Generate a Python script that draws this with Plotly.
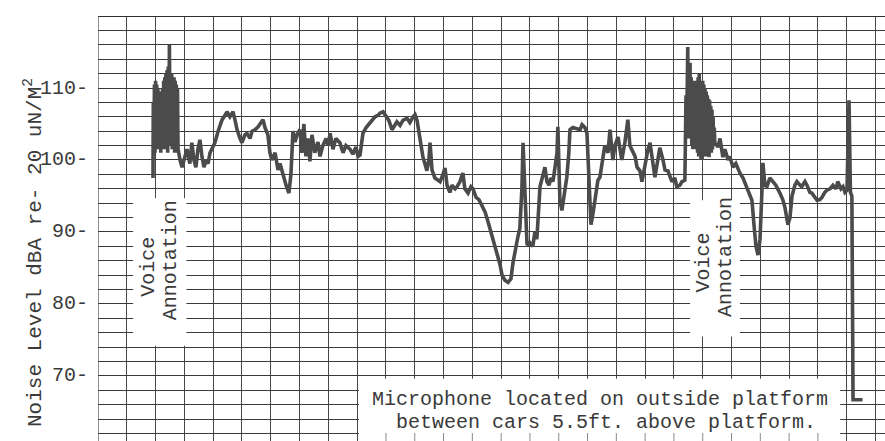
import plotly.graph_objects as go

# ---- trace data: chart position (major grid divisions) and level (dBA) ----
# opening voice-annotation burst
burst1_pos = [
    1.91, 1.92, 1.94, 1.96, 1.98, 2.00, 2.02, 2.04, 2.06, 2.08, 2.10, 2.12, 2.14, 2.16,
    2.18, 2.20, 2.22, 2.24, 2.26, 2.28, 2.30, 2.32, 2.34, 2.36, 2.38, 2.40, 2.42, 2.44,
    2.46, 2.48, 2.50, 2.52, 2.54, 2.56, 2.58, 2.60, 2.62, 2.64, 2.66, 2.68, 2.70, 2.72,
    2.74, 2.76, 2.78,
]
burst1_level = [
    97.5, 108.0, 100.5, 110.5, 101.0, 111.0, 101.5, 110.5, 102.0, 110.0, 101.5, 109.5, 102.0, 109.0,
    101.0, 109.5, 102.5, 110.0, 101.5, 111.0, 102.0, 111.5, 101.5, 112.0, 102.0, 112.5, 101.0, 113.0,
    103.0, 116.0, 104.0, 112.0, 102.0, 112.0, 101.5, 111.5, 101.5, 111.5, 101.0, 111.0, 101.0, 110.5,
    101.5, 110.0, 101.5,
]

# main run of the recording
run1_pos = [
    2.85, 2.92, 3.02, 3.09, 3.19, 3.26, 3.33, 3.40, 3.47, 3.54, 3.61, 3.68, 3.75, 3.82,
    3.89, 3.99, 4.06, 4.17, 4.31, 4.41, 4.48, 4.58, 4.69, 4.76, 4.83, 4.93, 5.00, 5.10,
    5.17, 5.28, 5.35, 5.45, 5.56, 5.66, 5.73, 5.80, 5.90, 5.97, 6.04, 6.15, 6.25, 6.32,
    6.42, 6.53, 6.63, 6.70, 6.77, 6.84, 6.91, 7.01, 7.08, 7.15, 7.22, 7.29, 7.36, 7.43,
    7.53, 7.64, 7.71, 7.81, 7.92, 7.99, 8.06, 8.16, 8.26, 8.40, 8.51, 8.61, 8.75, 8.85,
    8.96, 9.03, 9.10, 9.20, 9.31, 9.41, 9.51, 9.62, 9.72, 9.79, 9.90, 10.00, 10.10, 10.21,
    10.31, 10.38, 10.49, 10.59, 10.73, 10.83, 10.94, 11.01, 11.08, 11.15, 11.22, 11.28,
    11.35, 11.42, 11.49, 11.53, 11.60, 11.70, 11.81, 11.88, 11.98, 12.05, 12.12, 12.22,
    12.29, 12.40, 12.47, 12.57, 12.67, 12.74, 12.85, 12.95, 13.02, 13.13, 13.23, 13.33,
    13.44, 13.54, 13.65, 13.75, 13.85, 13.96, 14.03, 14.13, 14.24, 14.34, 14.41, 14.48,
    14.58, 14.65, 14.72, 14.76, 14.83, 14.90, 15.00, 15.10, 15.17, 15.24, 15.35, 15.45,
    15.52, 15.59, 15.66, 15.73, 15.80, 15.87, 15.94, 15.97, 16.01, 16.04, 16.11, 16.18,
    16.28, 16.35, 16.39, 16.49, 16.63, 16.74, 16.81, 16.91, 16.98, 17.05, 17.12, 17.19,
    17.29, 17.36, 17.43, 17.53, 17.60, 17.71, 17.78, 17.88, 17.95, 18.06, 18.13, 18.19,
    18.30, 18.40, 18.47, 18.54, 18.65, 18.72, 18.82, 18.89, 18.99, 19.10, 19.17, 19.24,
    19.34, 19.44, 19.51, 19.62, 19.69, 19.79, 19.93, 20.03, 20.10, 20.21, 20.28, 20.38,
]
run1_level = [
    100.0, 99.0, 100.5, 101.5, 99.5, 102.4, 100.0, 99.0, 101.5, 102.8, 100.5, 99.0, 100.0, 99.5,
    101.0, 102.0, 102.4, 104.0, 105.6, 106.2, 106.7, 106.0, 106.7, 105.5, 104.2, 103.0, 102.4, 103.5,
    103.7, 103.0, 104.0, 104.2, 104.6, 105.2, 105.6, 104.5, 103.5, 101.0, 100.0, 101.0, 98.6, 99.5,
    98.0, 96.5, 95.4, 98.0, 104.0, 102.5, 103.5, 104.2, 101.0, 105.0, 100.5, 103.0, 99.8, 103.5,
    101.0, 102.5, 100.5, 102.0, 103.0, 102.0, 103.7, 101.5, 103.0, 102.4, 101.0, 102.0, 101.5, 100.8,
    101.8, 100.5, 100.7, 103.7, 104.5, 105.0, 105.6, 106.0, 106.2, 106.5, 106.7, 106.2, 105.5, 104.2,
    105.0, 105.3, 104.8, 105.5, 105.8, 105.2, 106.0, 106.3, 105.5, 103.5, 101.8, 100.5,
    99.5, 98.5, 100.0, 102.4, 98.6, 97.5, 97.2, 97.0, 98.0, 98.9, 96.5, 95.5,
    96.5, 96.0, 96.3, 97.0, 98.2, 96.0, 95.4, 96.3, 96.0, 94.8, 94.5, 93.8,
    92.8, 91.5, 90.0, 88.5, 87.0, 85.5, 84.0, 83.3, 83.0, 83.5, 85.7, 87.5,
    89.3, 90.5, 96.0, 102.4, 95.0, 88.2, 88.5, 88.0, 90.0, 89.0, 96.3, 98.0,
    99.0, 97.0, 96.5, 97.5, 97.0, 99.0, 101.0, 104.6, 99.0, 94.4, 93.0, 95.0,
    97.6, 101.0, 104.2, 104.5, 104.4, 104.2, 104.9, 104.5, 103.7, 98.0, 91.0, 92.6,
    95.0, 97.2, 97.6, 100.0, 102.0, 101.0, 104.2, 100.0, 102.0, 103.2, 101.0, 100.0,
    102.5, 105.6, 102.0, 101.4, 100.5, 99.0, 98.5, 97.0, 99.5, 101.5, 102.4, 100.0,
    97.6, 100.0, 101.7, 100.0, 98.6, 98.5, 97.0, 97.5, 96.3, 96.5, 97.0, 97.2,
]

# second voice-annotation burst
burst2_pos = [
    20.42, 20.44, 20.46, 20.48, 20.50, 20.52, 20.54, 20.56, 20.58, 20.60, 20.62, 20.64,
    20.66, 20.68, 20.70, 20.72, 20.74, 20.76, 20.78, 20.80, 20.82, 20.84, 20.86, 20.88,
    20.90, 20.92, 20.94, 20.96, 20.98, 21.00, 21.02, 21.04, 21.06, 21.08, 21.10, 21.12,
    21.14, 21.16, 21.18, 21.20, 21.22, 21.24, 21.26, 21.28, 21.30, 21.32, 21.34, 21.36,
    21.38, 21.40, 21.42,
]
burst2_level = [
    109.0, 103.0, 112.9, 115.7, 106.0, 112.0, 103.0, 113.5, 103.0, 111.5, 102.0, 111.0,
    101.5, 110.5, 101.5, 110.5, 102.0, 111.0, 102.5, 111.0, 101.0, 111.5, 100.5, 112.0,
    100.5, 111.0, 100.0, 110.5, 100.0, 111.0, 100.5, 110.5, 101.0, 110.0, 100.5, 109.5,
    101.0, 109.0, 100.5, 108.5, 100.4, 108.3, 101.0, 107.5, 101.0, 107.0, 101.5, 106.0,
    102.0, 104.5, 102.4,
]

# tail of the recording and the pen returning to rest
run2_pos = [
    21.53, 21.60, 21.70, 21.77, 21.88, 21.94, 22.05, 22.15, 22.29, 22.40, 22.53, 22.64,
    22.71, 22.78, 22.85, 22.92, 22.99, 23.06, 23.09, 23.16, 23.23, 23.33, 23.44, 23.54,
    23.68, 23.78, 23.85, 23.96, 24.03, 24.10, 24.20, 24.27, 24.38, 24.44, 24.55, 24.62,
    24.72, 24.79, 24.90, 24.97, 25.07, 25.14, 25.24, 25.31, 25.42, 25.52, 25.63, 25.69,
    25.80, 25.87, 25.94, 26.01, 26.08, 26.13, 26.18, 26.22, 26.55,
]
run2_level = [
    101.8, 103.0, 100.4, 101.5, 100.0, 100.5, 99.0, 99.5, 98.2, 97.5, 96.3, 95.0,
    94.4, 91.0, 88.0, 86.8, 89.0, 96.0, 99.6, 96.5, 96.3, 97.5, 97.0, 96.5,
    95.4, 94.5, 93.5, 91.0, 92.0, 95.0, 96.5, 97.0, 96.5, 96.3, 97.0, 96.5,
    95.5, 95.4, 94.8, 94.4, 94.5, 94.8, 95.5, 95.8, 96.0, 96.5, 96.0, 97.0,
    96.0, 96.3, 95.5, 95.8, 108.3, 95.5, 95.0, 66.7, 66.7,
]

position_div = burst1_pos + run1_pos + burst2_pos + run2_pos
level_dba = burst1_level + run1_level + burst2_level + run2_level

# scale labels down the left side of the strip
scale_values = [110, 100, 90, 80, 70]
scale_labels = ["110-", "100-", "90-", "80-", "70-"]

MONO = "Liberation Mono, Courier New, monospace"
INK = "#3a3a3a"
GRID = "#474747"

fig = go.Figure()
fig.add_trace(go.Scatter(
    x=position_div, y=level_dba, mode="lines",
    line=dict(color="#4b4b4b", width=3.6), hoverinfo="skip", showlegend=False,
))

X_MAX = 27.33
Y_MIN, Y_MAX = 60.97, 120

fig.update_layout(
    width=885, height=441,
    margin=dict(l=98, r=0, t=16, b=0),
    paper_bgcolor="white", plot_bgcolor="white",
    showlegend=False,
    xaxis=dict(range=[0, X_MAX], tick0=0, dtick=1, showgrid=True, gridcolor=GRID,
               gridwidth=1, showticklabels=False, zeroline=False, showline=False, ticks=""),
    yaxis=dict(range=[Y_MIN, Y_MAX], tick0=0, dtick=2, showgrid=True, gridcolor="#3a3a3a",
               gridwidth=1.2, showticklabels=False, zeroline=False, showline=False, ticks=""),
)

shapes = []
# top and left edges of the chart paper
shapes.append(dict(type="line", xref="paper", yref="y", x0=0, x1=1, y0=Y_MAX, y1=Y_MAX,
                   line=dict(color="#2e2e2e", width=2)))
shapes.append(dict(type="line", xref="x", yref="paper", x0=0, x1=0, y0=0, y1=1,
                   line=dict(color=GRID, width=1.2)))
# blank patches where notes were typed over the grid
for x0, x1, y0, y1 in [(1.22, 3.07, 74.2, 94.7), (20.56, 22.29, 75.5, 94.4),
                       (9.06, 25.77, Y_MIN, 69.6)]:
    shapes.append(dict(type="rect", xref="x", yref="y", x0=x0, x1=x1, y0=y0, y1=y1,
                       fillcolor="white", line=dict(width=0), layer="above"))
# little index marks along the bottom edge of the note
for k in range(10, 26):
    shapes.append(dict(type="line", xref="x", yref="y", x0=k, x1=k, y0=Y_MIN, y1=Y_MIN + 1.1,
                       line=dict(color="#8a8a8a", width=1), layer="above"))
fig.update_layout(shapes=shapes)

ann = []
for v, t in zip(scale_values, scale_labels):
    ann.append(dict(xref="paper", yref="y", x=0, y=v, xanchor="right", yanchor="middle",
                    xshift=-8, text=t, showarrow=False, font=dict(family=MONO, size=20, color=INK)))

ann.append(dict(xref="paper", yref="paper", x=0, y=0.5, xshift=-80, yshift=-24,
                text="Noise Level dBA re- 20 uN/M<sup>2</sup>", textangle=-90, showarrow=False,
                font=dict(family=MONO, size=21, color=INK)))

for xv, yv, t in [(1.74, 85.2, "Voice"), (2.52, 86.0, "Annotation"),
                  (21.03, 85.7, "Voice"), (21.77, 86.5, "Annotation")]:
    ann.append(dict(xref="x", yref="y", x=xv, y=yv, text=t, textangle=-90, showarrow=False,
                    font=dict(family=MONO, size=20, color=INK)))

ann.append(dict(xref="x", yref="y", x=9.45, y=66.75, xanchor="left", yanchor="middle",
                text="Microphone located on outside platform", showarrow=False,
                font=dict(family=MONO, size=20, color=INK)))
ann.append(dict(xref="x", yref="y", x=10.28, y=63.55, xanchor="left", yanchor="middle",
                text="between cars 5.5ft. above platform.", showarrow=False,
                font=dict(family=MONO, size=20, color=INK)))
fig.update_layout(annotations=ann)

fig.write_html("out.html")
